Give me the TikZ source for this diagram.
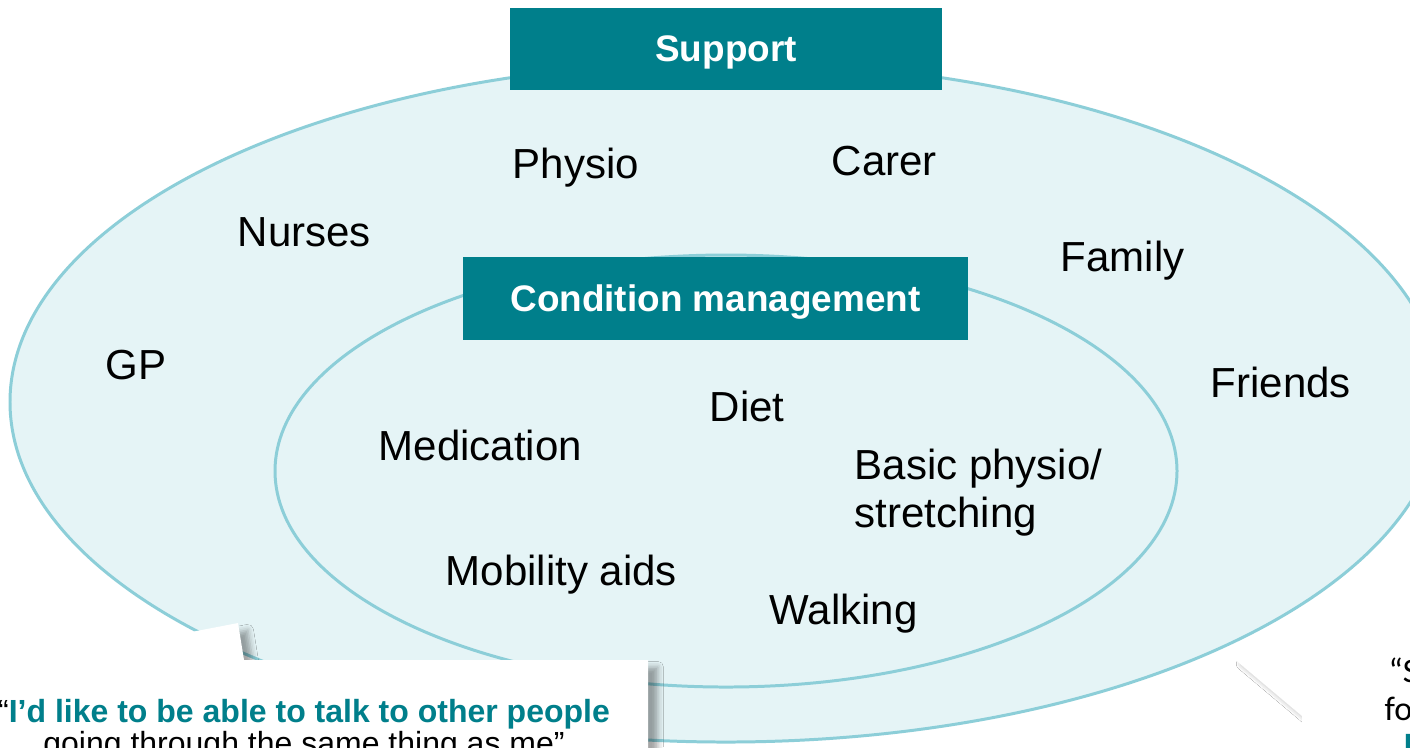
\documentclass[tikz,border=0pt]{standalone}
\usepackage{fontspec}
\setmainfont{Liberation Sans}
\newfontfamily\quotefont{Carlito}
\usetikzlibrary{shadows.blur}
\definecolor{boxteal}{RGB}{0,127,139}
\definecolor{ringfill}{RGB}{229,244,246}
\definecolor{ringline}{RGB}{140,206,216}
\begin{document}
\begin{tikzpicture}[x=0.01cm,y=-0.01cm,
  ring/.style={fill=ringfill,draw=ringline,line width=0.85pt},
  heading/.style={fill=boxteal,text=white,inner sep=0pt,text depth=0pt,
    font=\bfseries\fontsize{10.5}{12}\selectfont},
  item/.style={anchor=base west,inner sep=0pt,
    font=\fontsize{11.95}{13.7}\selectfont},
  bubble/.style={fill=white,blur shadow={shadow xshift=2.8pt,shadow yshift=-2pt,
    shadow blur radius=1.6pt,shadow opacity=35}},
  quoteline/.style={anchor=base,inner sep=0pt,font=\fontsize{9.1}{10.5}\selectfont}]
  \clip (0,0) rectangle (1410,747);
  \fill[white] (0,0) rectangle (1410,747);
  \draw[ring] (726,402) ellipse [x radius=716,y radius=340];
  \draw[ring] (726,471) ellipse [x radius=451,y radius=216];
  \node[heading,minimum width=4.32cm,minimum height=0.82cm] (support) at (726,49) {Support};
  \node[heading,minimum width=5.05cm,minimum height=0.83cm] (condition) at (715.5,298.5) {Condition management};
  \node[item] (physio) at (512,178) {Physio};
  \node[item] (carer) at (831,175) {Carer};
  \node[item] (nurses) at (237,246) {Nurses};
  \node[item] (family) at (1060,271) {Family};
  \node[item] (gp) at (105,379) {GP};
  \node[item] (friends) at (1210,397) {Friends};
  \node[item] (diet) at (709,421) {Diet};
  \node[item] (medication) at (378,460) {Medication};
  \node[item,anchor=west,align=left] (stretch) at (854,493) {Basic physio/\\[-0.1pt]stretching};
  \node[item] (mobility) at (445,585) {Mobility aids};
  \node[item] (walking) at (769,624) {Walking};
  \path[bubble] (-20,660) -- (46,660) -- (238,623) -- (244,660) -- (648,660)
    -- (648,790) -- (-20,790) -- cycle;
  \path[bubble] (1302,620) -- (1440,620) -- (1440,790) -- (1302,790) -- (1302,716)
    -- (1232,657) -- (1302,657) -- cycle;
  \node[quoteline] (talk) at (304,722) {“\textcolor{boxteal}{\bfseries I’d like to be able to talk to other people}};
  \node[quoteline] (same) at (304,754) {going through the same thing as me”};
  \node[item,font=\quotefont\fontsize{9.7}{11}\selectfont] (rquote1) at (1388,682) {“S};
  \node[item,font=\quotefont\fontsize{9.7}{11}\selectfont] (rquote2) at (1384,720) {fo};
  \node[item,font=\quotefont\bfseries\fontsize{9.7}{11}\selectfont,text=boxteal] (rquote3) at (1403,756) {I};
\end{tikzpicture}
\end{document}
